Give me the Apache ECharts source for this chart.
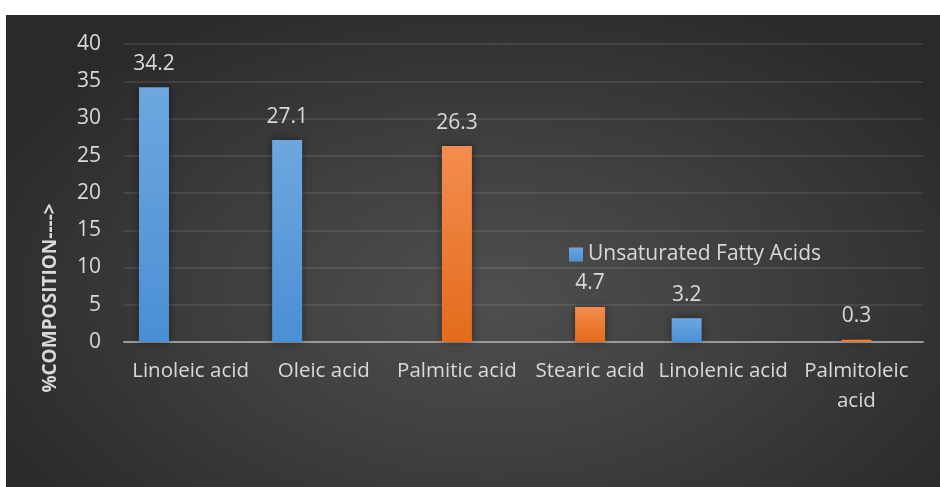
<!DOCTYPE html>
<html>
<head>
<meta charset="utf-8">
<script src="https://cdn.jsdelivr.net/npm/echarts@6/dist/echarts.min.js"></script>
<style>
  html, body { margin: 0; padding: 0; background: #ffffff; }
  #wrap { position: relative; width: 940px; height: 487px; overflow: hidden; }
  #panel {
    position: absolute; left: 6px; top: 15px; width: 934px; height: 472px;
    background: radial-gradient(ellipse 60% 70% at 52% 60%, #4f4f4f 0%, #404040 45%, #2a2a2a 100%);
  }
  #chart { position: absolute; left: 0; top: 0; width: 940px; height: 487px; }
</style>
</head>
<body>
<div id="wrap">
  <div id="panel"></div>
  <div id="chart"></div>
</div>
<script>
// Fatty acid composition (%)
const categories = ['Linoleic acid', 'Oleic acid', 'Palmitic acid', 'Stearic acid', 'Linolenic acid', 'Palmitoleic\nacid'];
const unsaturated = [34.2, 27.1, null, null, 3.2, null];
const saturated = [null, null, 26.3, 4.7, null, 0.3];
const yTicks = [0, 5, 10, 15, 20, 25, 30, 35, 40];

const textColor = '#d9d9d9';
const font = 'Open Sans';

const chart = echarts.init(document.getElementById('chart'), null, { renderer: 'canvas' });

function grad(top, bottom) {
  return new echarts.graphic.LinearGradient(0, 0, 0, 1, [
    { offset: 0, color: top },
    { offset: 1, color: bottom }
  ]);
}

const labelStyle = {
  show: true,
  position: 'top',
  distance: 13,
  color: textColor,
  fontFamily: font,
  fontSize: 21
};

chart.setOption({
  animation: false,
  textStyle: { fontFamily: font },
  grid: { left: 124, right: 17, top: 44, bottom: 145, containLabel: false },
  legend: {
    data: ['Unsaturated Fatty Acids'],
    left: 564,
    top: 239,
    itemWidth: 14,
    itemHeight: 14,
    itemGap: 6,
    icon: 'rect',
    textStyle: { color: textColor, fontFamily: font, fontSize: 21 }
  },
  xAxis: {
    type: 'category',
    data: categories,
    axisLine: { lineStyle: { color: '#9a9a9a', width: 2 } },
    axisTick: { show: false },
    axisLabel: {
      color: textColor, fontFamily: font, fontSize: 20.5,
      margin: 14, lineHeight: 30, interval: 0
    }
  },
  yAxis: {
    type: 'value',
    min: yTicks[0],
    max: yTicks[yTicks.length - 1],
    interval: 5,
    axisLine: { show: false },
    axisTick: { show: false },
    axisLabel: { color: textColor, fontFamily: font, fontSize: 21, margin: 23 },
    splitLine: { lineStyle: { color: 'rgba(255,255,255,0.09)', width: 2 } }
  },
  graphic: [{
    type: 'text',
    x: 51,
    y: 298,
    rotation: Math.PI / 2,
    style: {
      text: '%COMPOSITION---->',
      fill: textColor,
      font: 'bold 19px "Open Sans"',
      textAlign: 'center',
      textVerticalAlign: 'middle'
    }
  }],
  series: [
    {
      name: 'Unsaturated Fatty Acids',
      type: 'bar',
      data: unsaturated,
      barWidth: 30,
      barGap: '22%',
      itemStyle: {
        color: grad('#6ea7df', '#4a8fd5'),
        shadowColor: 'rgba(0,0,0,0.45)',
        shadowBlur: 8
      },
      label: labelStyle
    },
    {
      name: 'Saturated Fatty Acids',
      type: 'bar',
      data: saturated,
      barWidth: 30,
      barGap: '22%',
      itemStyle: {
        color: grad('#f38d4f', '#e46b1b'),
        shadowColor: 'rgba(0,0,0,0.45)',
        shadowBlur: 8
      },
      label: labelStyle
    },
    {
      name: 'Other',
      type: 'bar',
      data: [],
      barWidth: 30,
      barGap: '22%'
    }
  ]
});
</script>
</body>
</html>
